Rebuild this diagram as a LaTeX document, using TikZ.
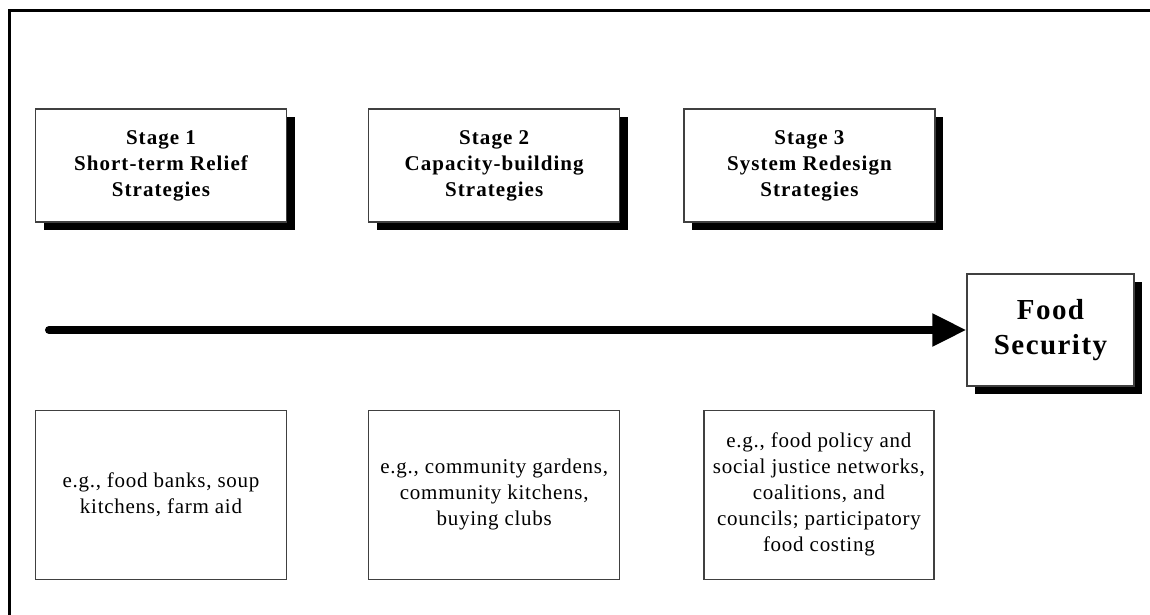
\documentclass[tikz,border=0pt]{standalone}
\usepackage{fontspec}
\setmainfont{Liberation Serif}
\usetikzlibrary{arrows.meta,positioning,shadows}
\tikzset{
    %Define standard arrow tip
    >={Triangle[length=34pt,width=31pt]},
    %Define style for stage boxes
    stagebox/.style={
           rectangle,
           draw=black!75, line width=1.2pt,
           fill=white,
           drop shadow={shadow xshift=8pt,shadow yshift=-8pt,fill=black,opacity=1},
           minimum width=251pt,
           minimum height=113pt,
           align=center,
           font=\fontsize{21}{26}\selectfont\bfseries\addfontfeatures{LetterSpace=5}},
    %Define style for example boxes
    examplebox/.style={
           rectangle,
           draw=black!75, line width=1.2pt,
           minimum width=251pt,
           minimum height=169pt,
           align=center,
           font=\fontsize{21}{26}\selectfont\addfontfeatures{LetterSpace=3.5}},
    %Define style for the goal box
    goalbox/.style={
           stagebox,
           minimum width=167pt,
           minimum height=112pt,
           font=\fontsize{29}{35}\selectfont\bfseries\addfontfeatures{LetterSpace=5}},
    % Define arrow style
    bigpil/.style={
           ->,
           line width=8pt,
           line cap=round}
}
\begin{document}
\begin{tikzpicture}[x=1pt,y=-1pt]
\useasboundingbox (0,0) rectangle (1150,615);
\draw[line width=3pt] (9.5,615) |- (1150,10.5);
\node[stagebox](stage1) at (161,165.5){Stage 1\\Short-term Relief\\Strategies};
\node[stagebox, right=81pt of stage1](stage2){Stage 2\\Capacity-building\\Strategies};
\node[stagebox, right=63pt of stage2](stage3){Stage 3\\System Redesign\\Strategies};
\node[goalbox](goal) at (1050.5,330){Food\\Security};
\node[examplebox, below=187pt of stage1](ex1){e.g., food banks, soup\\kitchens, farm aid};
\node[examplebox, below=187pt of stage2](ex2){e.g., community gardens,\\community kitchens,\\buying clubs};
\node[examplebox, minimum width=230pt, right=83pt of ex2](ex3){e.g., food policy and\\social justice networks,\\coalitions, and\\councils; participatory\\food costing};
\coordinate (start) at (49,330);
\draw[bigpil] (start) -- (goal);
\end{tikzpicture}
\end{document}
